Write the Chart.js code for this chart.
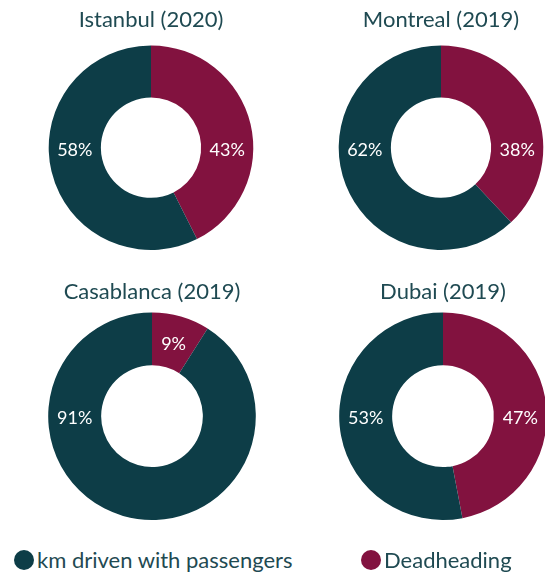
<!DOCTYPE html>
<html>
<head>
<meta charset="utf-8">
<script src="https://cdn.jsdelivr.net/npm/chart.js@4/dist/chart.umd.min.js"></script>
<style>
  body { margin: 0; background: #fff; overflow: hidden; font-family: Lato, sans-serif; }
  #wrap { position: relative; width: 545px; height: 577px; }
  .box { position: absolute; width: 300px; height: 260px; }
  .legend { position: absolute; top: 546px; font-size: 22px; color: #1f4a52; display: flex; align-items: center; white-space: nowrap; }
  .legend .dot { display: inline-block; width: 20px; height: 20px; border-radius: 50%; margin-right: 3px; }
</style>
</head>
<body>
<div id="wrap">
  <div class="box" style="left:1px;top:0px"><canvas id="c0"></canvas></div>
  <div class="box" style="left:291px;top:0px"><canvas id="c1"></canvas></div>
  <div class="box" style="left:2px;top:272px"><canvas id="c2"></canvas></div>
  <div class="box" style="left:293px;top:272px"><canvas id="c3"></canvas></div>
  <div class="legend" style="left:14px"><span class="dot" style="background:#0d3d47"></span>km driven with passengers</div>
  <div class="legend" style="left:361px"><span class="dot" style="background:#82123f"></span>Deadheading</div>
</div>
<script>
const cities = ["Istanbul (2020)", "Montreal (2019)", "Casablanca (2019)", "Dubai (2019)"];
const seriesNames = ["Deadheading", "km driven with passengers"];
const deadheading = [43, 38, 9, 47];
const withPassengers = [58, 62, 91, 53];
const colors = ["#82123f", "#0d3d47"];

// deadheading label goes on the right side, passengers label on the left,
// if the slice covers that side; otherwise at the slice centroid
const sliceLabels = {
  id: "sliceLabels",
  afterDatasetsDraw(chart) {
    const ctx = chart.ctx;
    const meta = chart.getDatasetMeta(0);
    ctx.save();
    ctx.fillStyle = "#ffffff";
    ctx.font = "18px Lato, sans-serif";
    ctx.textAlign = "center";
    ctx.textBaseline = "middle";
    meta.data.forEach((arc, i) => {
      const p = arc.getProps(["x", "y", "startAngle", "endAngle", "innerRadius", "outerRadius"], true);
      const mid = (p.innerRadius + p.outerRadius) / 2;
      const covers = (a) => {
        while (a < p.startAngle) a += Math.PI * 2;
        return a <= p.endAngle;
      };
      const side = i === 0 ? 0 : Math.PI;
      let x, y;
      if (covers(side)) {
        x = p.x + Math.cos(side) * mid;
        y = p.y;
      } else {
        const pos = arc.tooltipPosition(true);
        x = pos.x; y = pos.y;
      }
      ctx.fillText(chart.data.datasets[0].data[i] + "%", x, y + 2);
    });
    ctx.restore();
  }
};

cities.forEach((city, i) => {
  new Chart(document.getElementById("c" + i), {
    type: "doughnut",
    data: {
      labels: seriesNames,
      datasets: [{
        data: [deadheading[i], withPassengers[i]],
        backgroundColor: colors,
        borderWidth: 0
      }]
    },
    options: {
      responsive: true,
      maintainAspectRatio: false,
      animation: false,
      cutout: "49%",
      layout: { padding: { bottom: i < 2 ? 10 : 12 } },
      plugins: {
        legend: { display: false },
        tooltip: { enabled: false },
        title: {
          display: true,
          text: city,
          color: "#1f4a52",
          font: { family: "Lato, sans-serif", size: 22, weight: "normal" },
          padding: { top: 7, bottom: i < 2 ? 12 : 7 }
        }
      }
    },
    plugins: [sliceLabels]
  });
});
</script>
</body>
</html>
